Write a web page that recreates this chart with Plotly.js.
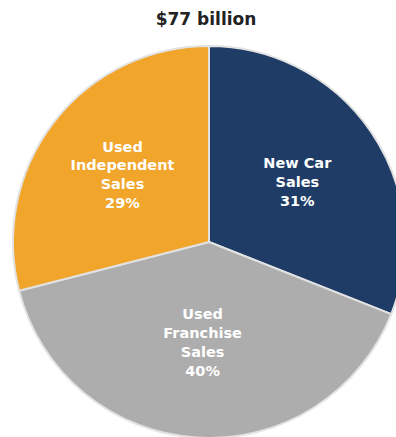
<!DOCTYPE html>
<html>
<head>
<meta charset="utf-8">
<script src="https://cdn.plot.ly/plotly-3.0.1.min.js"></script>
<style>
html,body{margin:0;padding:0;overflow:hidden;background:#fff;width:396px;height:437px;}
#chart{width:420px;height:450px;}
</style>
</head>
<body>
<div id="chart"></div>
<script>
const categories = ["New Car<br>Sales", "Used<br>Franchise<br>Sales", "Used<br>Independent<br>Sales"];
const shares = [31, 40, 29];
const colors = ["#1E3C66", "#ADADAD", "#F1A52A"];
const titleText = "$77 billion";

const W = 420, H = 450;
const cx = 209, cy = 242, r = 196;

const trace = {
  type: "pie",
  labels: categories,
  values: shares,
  sort: false,
  direction: "clockwise",
  rotation: 0,
  marker: {colors: colors, line: {color: "#E2E2E2", width: 2}},
  texttemplate: "%{label}<br>%{value}%",
  textposition: "inside",
  insidetextorientation: "horizontal",
  insidetextfont: {family: "DejaVu Sans", size: 14.5, weight: "bold", color: "#FFFFFF"},
  hoverinfo: "none",
  domain: {x: [(cx - r) / W, (cx + r) / W], y: [1 - (cy + r) / H, 1 - (cy - r) / H]}
};

const layout = {
  width: W, height: H,
  margin: {l: 0, r: 0, t: 0, b: 0},
  showlegend: false,
  paper_bgcolor: "#FFFFFF",
  title: {text: titleText, font: {family: "DejaVu Sans", size: 17, weight: "bold", color: "#222222"},
          x: 206 / W, xanchor: "center", y: 1 - 19 / H, yanchor: "middle", xref: "container", yref: "container"}
};

Plotly.newPlot("chart", [trace], layout, {staticPlot: true});
</script>
</body>
</html>
